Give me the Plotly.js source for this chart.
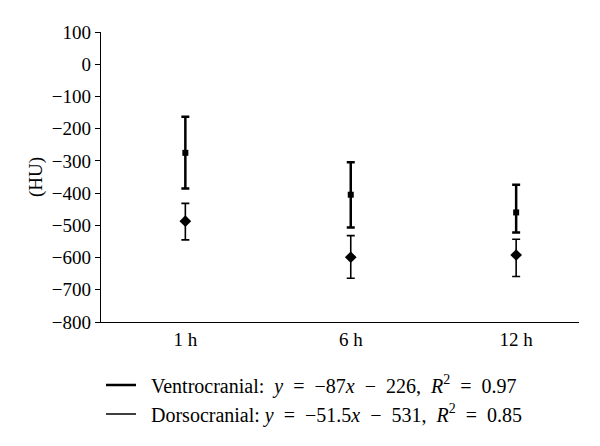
<!DOCTYPE html>
<html>
<head>
<meta charset="utf-8">
<script src="https://cdn.plot.ly/plotly-3.0.1.min.js"></script>
<style>
  body { margin: 0; background: #fff; }
  #grafico { width: 600px; height: 446px; }
</style>
</head>
<body>
<div id="grafico"></div>
<script>
var horas = ["1 h", "6 h", "12 h"];

var ventroMedia = [-275, -405, -460];
var ventroErrArriba = [112, 101, 86];
var ventroErrAbajo = [111, 102, 62];

var dorsoMedia = [-487, -599, -592];
var dorsoErrArriba = [55, 67, 49];
var dorsoErrAbajo = [58, 65, 67];

// espacios extra alrededor de los operadores, como en la figura original
var s = "\u00a0";
var leyendas = [
	s + s + "Ventrocranial:  <i>y</i>" + s + " = " + s + "−87<i>x</i>" + s + " − " + s + "226," + s + " <i>R</i><sup>2</sup>" + s + " = " + s + "0.97",
	s + s + "Dorsocranial: <i>y</i>" + s + " = " + s + "−51.5<i>x</i>" + s + " − " + s + "531," + s + " <i>R</i><sup>2</sup>" + s + " = " + s + "0.85"
];

function GraficoHU(){
	var data = [{
		x: horas,
		y: ventroMedia,
		type: "scatter",
		mode: "markers",
		showlegend: false,
		marker: { symbol: "square", size: 6, color: "#000" },
		error_y: {
			type: "data",
			symmetric: false,
			array: ventroErrArriba,
			arrayminus: ventroErrAbajo,
			color: "#000",
			thickness: 2.5,
			width: 4
		}
	}, {
		x: horas,
		y: dorsoMedia,
		type: "scatter",
		mode: "markers",
		showlegend: false,
		marker: { symbol: "diamond", size: 9, color: "#000" },
		error_y: {
			type: "data",
			symmetric: false,
			array: dorsoErrArriba,
			arrayminus: dorsoErrAbajo,
			color: "#000",
			thickness: 1.6,
			width: 4
		}
	}, {
		x: [null],
		y: [null],
		type: "scatter",
		mode: "lines",
		name: leyendas[0],
		line: { color: "#000", width: 2.5 }
	}, {
		x: [null],
		y: [null],
		type: "scatter",
		mode: "lines",
		name: leyendas[1],
		line: { color: "#000", width: 1.3 }
	}];

	var layout = {
		width: 600,
		height: 446,
		margin: { l: 101, r: 21, t: 32, b: 124 },
		paper_bgcolor: "#fff",
		plot_bgcolor: "#fff",
		font: { family: "Liberation Serif, DejaVu Serif, serif", size: 19, color: "#000" },
		showlegend: true,
		legend: {
			x: 0.0,
			y: -0.15,
			xanchor: "left",
			yanchor: "top",
			font: { size: 20 },
			tracegroupgap: 0,
			bgcolor: "rgba(0,0,0,0)",
			traceorder: "normal"
		},
		xaxis: {
			type: "category",
			range: [-0.51, 2.38],
			showline: true,
			linecolor: "#000",
			linewidth: 1.2,
			showgrid: false,
			zeroline: false,
			ticks: "",
			tickfont: { size: 19 }
		},
		yaxis: {
			range: [-800, 100],
			dtick: 100,
			showline: true,
			linecolor: "#000",
			linewidth: 1.2,
			showgrid: false,
			zeroline: false,
			ticks: "outside",
			ticklen: 5,
			tickcolor: "#000",
			tickfont: { size: 19 },
			title: { text: "(HU)", font: { size: 19 }, standoff: 4 }
		}
	};

	var config = { responsive: false, displayModeBar: false, staticPlot: true };

	Plotly.newPlot("grafico", data, layout, config);
}

document.addEventListener("DOMContentLoaded", function() {
	GraficoHU();
});
</script>
</body>
</html>
